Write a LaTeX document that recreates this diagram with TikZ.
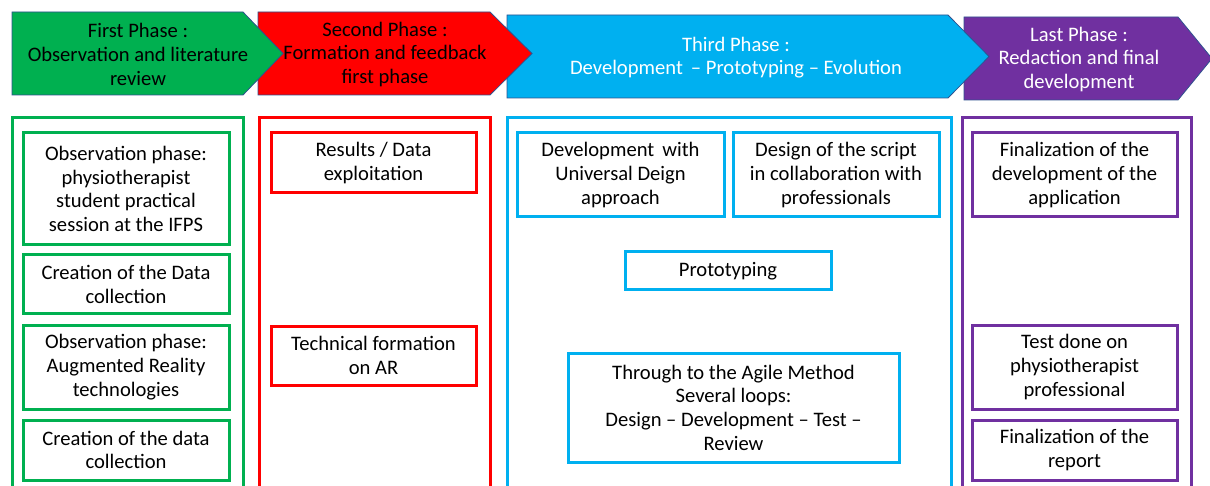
\documentclass[tikz,border=0pt]{standalone}
\usepackage{fontspec}
\setmainfont{Carlito}
\definecolor{pgreen}{HTML}{00B050}
\definecolor{pred}{HTML}{FF0000}
\definecolor{pblue}{HTML}{00B0F0}
\definecolor{ppurple}{HTML}{7030A0}
\definecolor{edgecol}{HTML}{2F528F}
\begin{document}
\begin{tikzpicture}[x=1pt,y=-1pt,
  txt/.style={font=\fontsize{20.6}{23.7}\selectfont, align=center, inner sep=0pt},
  hdr/.style={draw=edgecol, line width=0.8pt, line join=miter},
  col/.style={line width=3pt},
  box/.style={txt, draw, line width=3pt, fill=white}
]
\useasboundingbox (0,0) rectangle (1210,486);
\clip (0,0) rectangle (1210,486);
% header arrows (drawn back to front)
\filldraw[hdr, fill=ppurple] (964,17) -- (1178,17) -- (1212,58.5) -- (1178,100) -- (964,100) -- cycle;
\filldraw[hdr, fill=pblue] (507,15) -- (948,15) -- (989,56.5) -- (948,98) -- (507,98) -- cycle;
\filldraw[hdr, fill=pred] (258,12) -- (490,12) -- (532,53.5) -- (490,95) -- (258,95) -- cycle;
\filldraw[hdr, fill=pgreen] (12,12) -- (243,12) -- (283,53.5) -- (243,95) -- (12,95) -- cycle;
\node[txt, text=black] (h1) at (138,54.5) {First Phase :\\Observation and literature\\review};
\node[txt, text=black] (h2) at (385,54.5) {Second Phase :\\Formation and feedback\\first phase};
\node[txt, text=white] (h3) at (736,57.5) {Third Phase :\\Development \,-- Prototyping -- Evolution};
\node[txt, text=white] (h4) at (1079,59.5) {Last Phase :\\Redaction and final\\development};
% column frames
\draw[col, pgreen] (12,500) -- (12,118) -- (243,118) -- (243,500);
\draw[col, pred] (259,500) -- (259,118) -- (490,118) -- (490,500);
\draw[col, pblue] (507,500) -- (507,118) -- (951,118) -- (951,500);
\draw[col, ppurple] (962,500) -- (962,118) -- (1191,118) -- (1191,500);
% green boxes
\node[box, draw=pgreen, minimum width=206pt, minimum height=112pt] (g1) at (126,189) {Observation phase:\\physiotherapist\\student practical\\session at the IFPS};
\node[box, draw=pgreen, minimum width=206pt, minimum height=59pt] (g2) at (126,284.5) {Creation of the Data\\collection};
\node[box, draw=pgreen, minimum width=206pt, minimum height=84pt] (g3) at (126,367) {Observation phase:\\Augmented Reality\\technologies};
\node[box, draw=pgreen, minimum width=206pt, minimum height=60pt] (g4) at (126,450) {Creation of the data\\collection};
% red boxes
\node[box, draw=pred, minimum width=205pt, minimum height=60pt] (r1) at (373.5,163) {Results / Data\\exploitation};
\node[box, draw=pred, minimum width=205pt, minimum height=59pt] (r2) at (373.5,355.5) {Technical formation\\on AR};
% blue boxes
\node[box, draw=pblue, minimum width=207pt, minimum height=84pt] (b1) at (620.5,175) {Development \,with\\Universal Deign\\approach};
\node[box, draw=pblue, minimum width=206pt, minimum height=84pt] (b2) at (836,175) {Design of the script\\in collaboration with\\professionals};
\node[box, draw=pblue, minimum width=206pt, minimum height=38pt] (b3) at (728,271) {Prototyping};
\node[box, draw=pblue, minimum width=331pt, minimum height=109pt] (b4) at (733.5,407.5) {Through to the Agile Method\\Several loops:\\Design -- Development -- Test --\\Review};
% purple boxes
\node[box, draw=ppurple, minimum width=205pt, minimum height=84pt] (p1) at (1074.5,175) {Finalization of the\\development of the\\application};
\node[box, draw=ppurple, minimum width=205pt, minimum height=84pt] (p2) at (1074.5,367) {Test done on\\physiotherapist\\professional};
\node[box, draw=ppurple, minimum width=205pt, minimum height=60pt] (p3) at (1074.5,450) {Finalization of the\\report};
\end{tikzpicture}
\end{document}
